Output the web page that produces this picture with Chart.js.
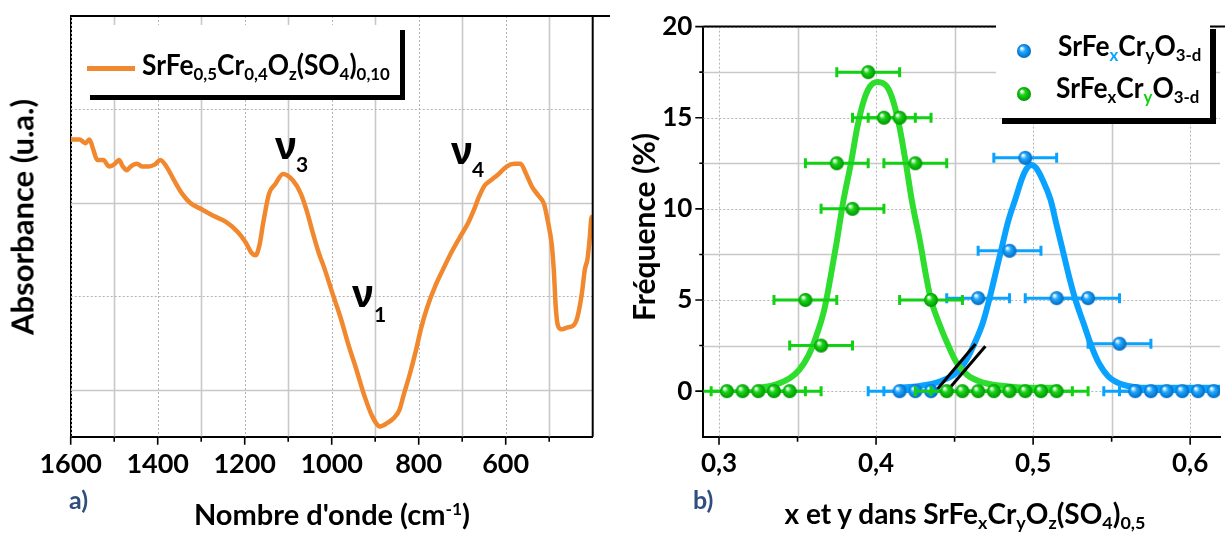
<!DOCTYPE html>
<html>
<head>
<meta charset="utf-8">
<script src="https://cdn.jsdelivr.net/npm/chart.js@4.4.0/dist/chart.umd.min.js"></script>
<style>
  body { margin: 0; width: 1225px; height: 535px; background: #fff; position: relative; overflow: hidden;
         font-family: Lato, 'Noto Sans', sans-serif; font-weight: bold; color: #000; }
  .box { position: absolute; top: 0; height: 535px; }
  #irBox { left: 0; width: 610px; }
  #distBox { left: 610px; width: 615px; }
  .t { position: absolute; white-space: nowrap; line-height: 1; font-weight: bold; }
  .c { transform: translate(-50%, -50%); }
  .rot { transform: translate(-50%, -50%) rotate(-90deg); }
  .s { font-size: 0.64em; position: relative; top: 0.3em; }
  .p { font-size: 0.6em; position: relative; top: -0.55em; }
  .nu { font-family: 'Noto Sans', sans-serif; font-size: 38px; }
  .leg { position: absolute; background: #fff; }
  .tag { color: #2f4d7e; font-size: 25px; transform: translateY(-50%); }
  .sq { transform: scaleX(0.94); transform-origin: 0 0; }
</style>
</head>
<body>
<div class="box" id="irBox"><canvas id="irChart"></canvas></div>
<div class="box" id="distBox"><canvas id="distChart"></canvas></div>

<!-- panel a) texts -->
<div class="t rot" style="left:22px;top:217px;font-size:31px">Absorbance (u.a.)</div>
<div class="t c" style="left:332px;top:513px;font-size:29px">Nombre d'onde (cm<span class="p">-1</span>)</div>
<div class="t tag" style="left:69px;top:499px">a)</div>
<div class="leg" style="left:85px;top:25px;width:315px;height:70px;box-shadow:5px 5px 0 #000">
  <div style="position:absolute;left:2px;top:41px;width:48px;height:5px;background:#f1882d"></div>
  <div class="t sq" style="left:57px;top:25px;font-size:28px">SrFe<span class="s">0,5</span>Cr<span class="s">0,4</span>O<span class="s">z</span>(SO<span class="s">4</span>)<span class="s">0,10</span></div>
</div>
<div class="t nu" style="left:275px;top:125px">ν</div><div class="t" style="left:296px;top:153px;font-size:21px">3</div>
<div class="t nu" style="left:352px;top:273px">ν</div><div class="t" style="left:374px;top:303px;font-size:21px">1</div>
<div class="t nu" style="left:451px;top:130px">ν</div><div class="t" style="left:472px;top:158px;font-size:21px">4</div>

<!-- panel b) texts -->
<div class="t rot" style="left:643px;top:227px;font-size:30px">Fréquence (%)</div>
<div class="t c" style="left:965px;top:513px;font-size:28px">x et y dans SrFe<span class="s">x</span>Cr<span class="s">y</span>O<span class="s">z</span>(SO<span class="s">4</span>)<span class="s">0,5</span></div>
<div class="t tag" style="left:693px;top:499px">b)</div>
<div class="leg" style="left:996px;top:23px;width:214px;height:95px;box-shadow:6px 6px 0 #000">
  <div id="legBlue" style="position:absolute;left:20px;top:20px"></div>
  <div class="t sq" style="left:62px;top:8px;font-size:28px">SrFe<span class="s" style="color:#0aa2ff">x</span>Cr<span class="s">y</span>O<span class="s">3-d</span></div>
  <div id="legGreen" style="position:absolute;left:20px;top:63px"></div>
  <div class="t sq" style="left:60px;top:50px;font-size:28px">SrFe<span class="s">x</span>Cr<span class="s" style="color:#12d012">y</span>O<span class="s">3-d</span></div>
</div>

<script>
// ---------- panel a) : spectre IR ----------
const irWavenumber = [1600,1580,1566,1557,1548,1539,1525,1512,1498,1489,1480,1471,1462,1448,1435,1421,1407,1394,1380,1362,
  1344,1325,1298,1271,1244,1216,1198,1185,1175,1166,1157,1144,1130,1112,1089,1071,1057,1044,1030,1016,
  998,980,962,944,925,907,889,871,857,844,835,821,807,794,780,762,744,725,707,685,
  671,662,648,635,616,598,580,566,553,539,525,512,503,494,489,485,480,471,457,444,
  435,425,418,412,407,403,400];
const irAbsorbance = [2.68,2.68,2.64,2.68,2.57,2.46,2.46,2.39,2.42,2.46,2.39,2.35,2.39,2.42,2.39,2.39,2.41,2.46,2.39,2.24,
  2.10,2.00,1.93,1.86,1.80,1.69,1.58,1.47,1.44,1.55,1.80,2.10,2.20,2.31,2.24,2.10,1.91,1.69,1.47,1.29,
  1.03,0.78,0.49,0.23,-0.06,-0.28,-0.39,-0.35,-0.30,-0.21,-0.06,0.16,0.41,0.67,0.89,1.11,1.29,1.47,1.62,1.80,
  1.95,2.06,2.19,2.24,2.31,2.39,2.42,2.42,2.31,2.17,2.08,1.99,1.80,1.55,1.25,0.89,0.69,0.65,0.67,0.69,
  0.78,1.03,1.29,1.40,1.62,1.84,1.86];
const irLabelTicks = [1600, 1400, 1200, 1000, 800, 600];
const irMinorTicks = [1500, 1300, 1100, 900, 700, 500];
const irGridSolidY = [0, 2];
const irGridDottedY = [1, 3];

// ---------- panel b) : distribution x / y ----------
const yFracX = [0.305,0.315,0.325,0.335,0.345,0.355,0.365,0.375,0.385,0.395,0.405,0.415,0.425,0.435,0.445,0.455,0.465,0.475,0.485,0.495,0.505,0.515];
const yFracFreq = [0,0,0,0,0,5,2.5,12.5,10,17.5,15,15,12.5,5,0,0,0,0,0,0,0,0];
const yFracErr = [0.02,0.02,0.02,0.02,0.02,0.02,0.02,0.02,0.02,0.02,0.02,0.02,0.02,0.02,0.02,0.02,0.02,0.02,0.02,0.02,0.02,0.02];

const xFracX = [0.415,0.425,0.435,0.465,0.485,0.495,0.515,0.535,0.555,0.565,0.575,0.585,0.595,0.605,0.615];
const xFracFreq = [0,0,0,5.1,7.7,12.8,5.1,5.1,2.6,0,0,0,0,0,0];
const xFracErr = [0.02,0.02,0.02,0.02,0.02,0.02,0.02,0.02,0.02,0.02,0.02,0.02,0.02,0.02,0.02];

// courbes d'ajustement gaussiennes
const yFitX = [0.325,0.336,0.345,0.351,0.357,0.362,0.367,0.371,0.375,0.379,0.384,0.388,0.392,0.396,0.401,0.407,
  0.411,0.415,0.419,0.423,0.428,0.432,0.435,0.440,0.446,0.451,0.458,0.469,0.483,0.500,0.517];
const yFitFreq = [0.18,0.36,0.71,1.16,1.96,3.04,4.46,6.25,8.21,10.35,12.5,14.46,15.89,16.7,16.96,16.7,
  15.89,14.46,12.5,10.35,8.21,6.25,5.0,3.75,2.5,1.61,0.89,0.45,0.27,0.18,0.18];
const xFitX = [0.415,0.427,0.441,0.452,0.458,0.463,0.468,0.472,0.476,0.480,0.484,0.489,0.493,0.496,0.499,
  0.502,0.506,0.511,0.515,0.519,0.523,0.527,0.532,0.537,0.542,0.548,0.557,0.574,0.620];
const xFitFreq = [0.20,0.27,0.54,1.07,1.79,2.68,3.75,5.0,6.43,7.86,9.28,10.62,11.69,12.23,12.41,
  12.23,11.6,10.53,9.1,7.68,6.25,5.0,3.75,2.5,1.52,0.8,0.36,0.18,0.18];

// double trait noir (coupure)
const breakMarkA = [[0.4362, -0.18], [0.4633, 2.59]];
const breakMarkB = [[0.4425, -0.27], [0.4696, 2.46]];

const distMajorX = [0.3, 0.4, 0.5, 0.6];
const distMinorX = [0.35, 0.45, 0.55];
const distMajorY = [0, 5, 10, 15, 20];
const distMinorY = [2.5, 7.5, 12.5, 17.5];

const GREEN = '#12d012', GREEN_LINE = '#2edd2e';
const BLUE = '#0aa2ff';

function sphere(r, base, dark) {
  const c = document.createElement('canvas');
  const s = Math.ceil(r * 2) + 2;
  c.width = c.height = s;
  const g = c.getContext('2d');
  const m = s / 2;
  const grad = g.createRadialGradient(m - r * 0.35, m - r * 0.4, r * 0.08, m, m, r);
  grad.addColorStop(0, '#ffffff');
  grad.addColorStop(0.38, base);
  grad.addColorStop(1, dark);
  g.fillStyle = grad;
  g.beginPath(); g.arc(m, m, r, 0, Math.PI * 2); g.fill();
  return c;
}

const axisDecor = {
  id: 'axisDecor',
  beforeDatasetsDraw(chart, _a, o) {
    const { ctx, chartArea: a, scales: { x, y } } = chart;
    ctx.save();
    ctx.beginPath(); ctx.rect(a.left, a.top, a.width, a.height); ctx.clip();
    const grid = (vals, isX, dotted) => {
      ctx.beginPath();
      ctx.setLineDash(dotted ? [2, 2] : []);
      ctx.lineWidth = dotted ? 1 : 1.6;
      ctx.strokeStyle = dotted ? '#b4b4b4' : '#c8c8c8';
      vals.forEach(v => {
        if (isX) { const p = Math.round(x.getPixelForValue(v)) + 0.5; ctx.moveTo(p, a.top); ctx.lineTo(p, a.bottom); }
        else { const p = Math.round(y.getPixelForValue(v)) + 0.5; ctx.moveTo(a.left, p); ctx.lineTo(a.right, p); }
      });
      ctx.stroke();
    };
    grid(o.xSolid, true, false); grid(o.xDotted, true, true);
    grid(o.ySolid, false, false); grid(o.yDotted, false, true);
    ctx.restore();
  },
  afterDraw(chart, _a, o) {
    const { ctx, chartArea: a, scales: { x, y } } = chart;
    ctx.save();
    ctx.strokeStyle = '#000';
    ctx.lineWidth = 2;
    ctx.beginPath();
    ctx.moveTo(a.left, a.top); ctx.lineTo(chart.width, a.top);
    if (o.closed) { ctx.moveTo(a.right, a.top); ctx.lineTo(a.right, a.bottom); }
    ctx.stroke();
    ctx.lineWidth = 1.6;
    ctx.beginPath();
    const xt = (vals, len) => vals.forEach(v => { const p = x.getPixelForValue(v); ctx.moveTo(p, a.bottom); ctx.lineTo(p, a.bottom + len); });
    const yt = (vals, len) => vals.forEach(v => { const p = y.getPixelForValue(v); ctx.moveTo(a.left, p); ctx.lineTo(a.left - len, p); });
    xt(o.xMajor, 8); xt(o.xMinor, 5);
    yt(o.yMajor, 8); yt(o.yMinor, 4);
    ctx.stroke();
    ctx.restore();
  }
};

const xErrorBars = {
  id: 'xErrorBars',
  beforeDatasetDraw(chart, args) {
    const ds = chart.data.datasets[args.index];
    if (!ds.xErr) return;
    const { ctx, chartArea: a, scales: { x, y } } = chart;
    ctx.save();
    ctx.beginPath(); ctx.rect(a.left, a.top, a.width, a.height); ctx.clip();
    ctx.strokeStyle = ds.errColor;
    ctx.lineWidth = 3;
    ds.data.forEach((pt, i) => {
      const x1 = x.getPixelForValue(pt.x - ds.xErr[i]);
      const x2 = x.getPixelForValue(pt.x + ds.xErr[i]);
      const py = y.getPixelForValue(pt.y);
      ctx.beginPath();
      ctx.moveTo(x1, py); ctx.lineTo(x2, py);
      ctx.moveTo(x1, py - 5); ctx.lineTo(x1, py + 5);
      ctx.moveTo(x2, py - 5); ctx.lineTo(x2, py + 5);
      ctx.stroke();
    });
    ctx.restore();
  }
};

const zip = (xs, ys) => xs.map((v, i) => ({ x: v, y: ys[i] }));

// ----- chart a -----
new Chart(document.getElementById('irChart'), {
  type: 'scatter',
  data: {
    datasets: [{
      data: zip(irWavenumber, irAbsorbance),
      showLine: true,
      borderColor: '#f1882d',
      borderWidth: 4.5,
      pointRadius: 0,
      cubicInterpolationMode: 'monotone',
    }],
  },
  options: {
    responsive: true, maintainAspectRatio: false, animation: false,
    layout: { padding: { top: 16, right: 17.3, left: 0, bottom: 0 } },
    plugins: {
      legend: { display: false }, tooltip: { enabled: false },
      axisDecor: {
        xSolid: irMinorTicks, xDotted: irLabelTicks, ySolid: irGridSolidY, yDotted: irGridDottedY,
        xMajor: irLabelTicks, xMinor: irMinorTicks, yMajor: [], yMinor: [], closed: true,
      },
    },
    scales: {
      x: {
        type: 'linear', reverse: true, min: 400, max: 1600,
        afterFit: s => { s.height = 98.3; },
        border: { color: '#000', width: 2 },
        grid: { drawOnChartArea: false, drawTicks: false },
        ticks: { stepSize: 100, padding: 11, color: '#000', font: { family: 'Lato', size: 27, weight: 'bold' },
                 maxRotation: 0, autoSkip: false,
                 callback: v => (irLabelTicks.includes(v) ? String(v) : '') },
      },
      y: {
        min: -0.5, max: 4,
        afterFit: s => { s.width = 70.7; },
        border: { color: '#000', width: 2 },
        grid: { drawOnChartArea: false, drawTicks: false },
        ticks: { display: false },
      },
    },
  },
  plugins: [axisDecor],
});

// ----- chart b -----
new Chart(document.getElementById('distChart'), {
  type: 'scatter',
  data: {
    datasets: [
      { data: zip(yFracX, yFracFreq), xErr: yFracErr, errColor: GREEN, pointStyle: sphere(7, '#1ad41a', '#009400'), order: 0 },
      { data: zip(xFracX, xFracFreq), xErr: xFracErr, errColor: BLUE, pointStyle: sphere(7, '#20a8ff', '#0068c0'), order: 0 },
      { data: zip(breakMarkA.map(p => p[0]), breakMarkA.map(p => p[1])), showLine: true, borderColor: '#000', borderWidth: 3, pointRadius: 0, order: 1 },
      { data: zip(breakMarkB.map(p => p[0]), breakMarkB.map(p => p[1])), showLine: true, borderColor: '#000', borderWidth: 3, pointRadius: 0, order: 1 },
      { data: zip(yFitX, yFitFreq), showLine: true, borderColor: GREEN_LINE, borderWidth: 6, pointRadius: 0, cubicInterpolationMode: 'monotone', order: 2 },
      { data: zip(xFitX, xFitFreq), showLine: true, borderColor: BLUE, borderWidth: 6, pointRadius: 0, cubicInterpolationMode: 'monotone', order: 3 },
    ],
  },
  options: {
    responsive: true, maintainAspectRatio: false, animation: false,
    layout: { padding: { top: 16.7, right: 0, left: 0, bottom: 0 } },
    plugins: {
      legend: { display: false }, tooltip: { enabled: false },
      axisDecor: {
        xSolid: distMinorX, xDotted: distMajorX, ySolid: distMinorY, yDotted: distMajorY,
        xMajor: distMajorX, xMinor: distMinorX, yMajor: distMajorY, yMinor: distMinorY, closed: false,
      },
    },
    scales: {
      x: {
        type: 'linear', min: 0.29, max: 0.619,
        afterFit: s => { s.height = 98.3; },
        border: { color: '#000', width: 2 },
        grid: { drawOnChartArea: false, drawTicks: false },
        ticks: { stepSize: 0.05, includeBounds: false, padding: 11, color: '#000', font: { family: 'Lato', size: 26, weight: 'bold' },
                 maxRotation: 0, autoSkip: false,
                 callback: v => (distMajorX.some(t => Math.abs(t - v) < 1e-6) ? v.toFixed(1).replace('.', ',') : '') },
      },
      y: {
        min: -2.5, max: 20,
        afterFit: s => { s.width = 93.3; },
        border: { color: '#000', width: 2 },
        grid: { drawOnChartArea: false, drawTicks: false },
        ticks: { stepSize: 2.5, padding: 11, color: '#000', font: { family: 'Lato', size: 26, weight: 'bold' }, autoSkip: false,
                 callback: v => (distMajorY.includes(v) ? String(v) : '') },
      },
    },
  },
  plugins: [axisDecor, xErrorBars],
});

document.getElementById('legBlue').appendChild(sphere(7, '#20a8ff', '#0068c0'));
document.getElementById('legGreen').appendChild(sphere(7, '#1ad41a', '#009400'));
</script>
</body>
</html>
